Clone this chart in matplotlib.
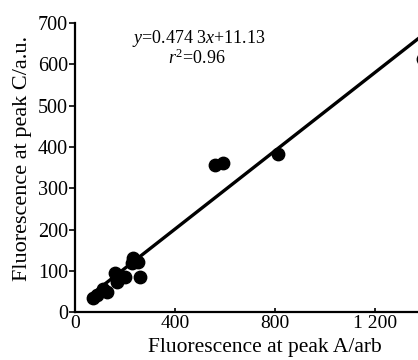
import numpy as np
import matplotlib
matplotlib.use("Agg")
import matplotlib.pyplot as plt

plt.rcParams['font.family'] = ['Liberation Serif', 'DejaVu Serif']
plt.rcParams['mathtext.fontset'] = 'custom'
plt.rcParams['mathtext.rm'] = 'Liberation Serif'
plt.rcParams['mathtext.it'] = 'Liberation Serif:italic'

# peak A vs peak C fluorescence
peak_a = [73, 87, 113, 127, 160, 167, 200, 227, 233, 253, 260, 560, 593, 813, 1390]
peak_c = [33, 41, 57, 49, 94, 73, 85, 118, 130, 122, 85, 357, 360, 384, 614]
slope = 0.4743
intercept = 11.13
fit_x = [60, 1400]

fig = plt.figure(figsize=(4.18, 3.6), dpi=100)
ax = fig.add_axes([0.179, 0.133, 0.821, 0.803])

ax.scatter(peak_a, peak_c, s=80, color='black', zorder=3, clip_on=True)
fx = np.array(fit_x)
ax.plot(fx, slope * fx + intercept, color='black', lw=2.4)

ax.set_xlim(0, 1372)
ax.set_ylim(0, 700)
ax.set_xticks([0, 400, 800, 1200])
ax.set_xticklabels(['0', '400', '800', '1 200'])
ax.set_yticks(range(0, 701, 100))

for s in ['top', 'right']:
    ax.spines[s].set_visible(False)
for s in ['left', 'bottom']:
    ax.spines[s].set_linewidth(1.6)
ax.tick_params(axis='x', direction='in', length=3, width=1.2, labelsize=14, pad=2)
ax.tick_params(axis='y', direction='out', length=4, width=1.2, labelsize=14.5, pad=1)

ax.set_xlabel('Fluorescence at peak A/arb', fontsize=15.5, labelpad=0)
ax.xaxis.set_label_coords(0.554, -0.09)
ax.set_ylabel('Fluorescence at peak C/a.u.', fontsize=16)
ax.yaxis.set_label_coords(-0.125, 0.533)

ax.text(0.36, 0.948, r'$y$=0.474 3$x$+11.13', transform=ax.transAxes,
        ha='center', va='center', fontsize=13)
ax.text(0.355, 0.878, r'$r^2$=0.96', transform=ax.transAxes,
        ha='center', va='center', fontsize=13)

fig.savefig('out.png', dpi=100)
